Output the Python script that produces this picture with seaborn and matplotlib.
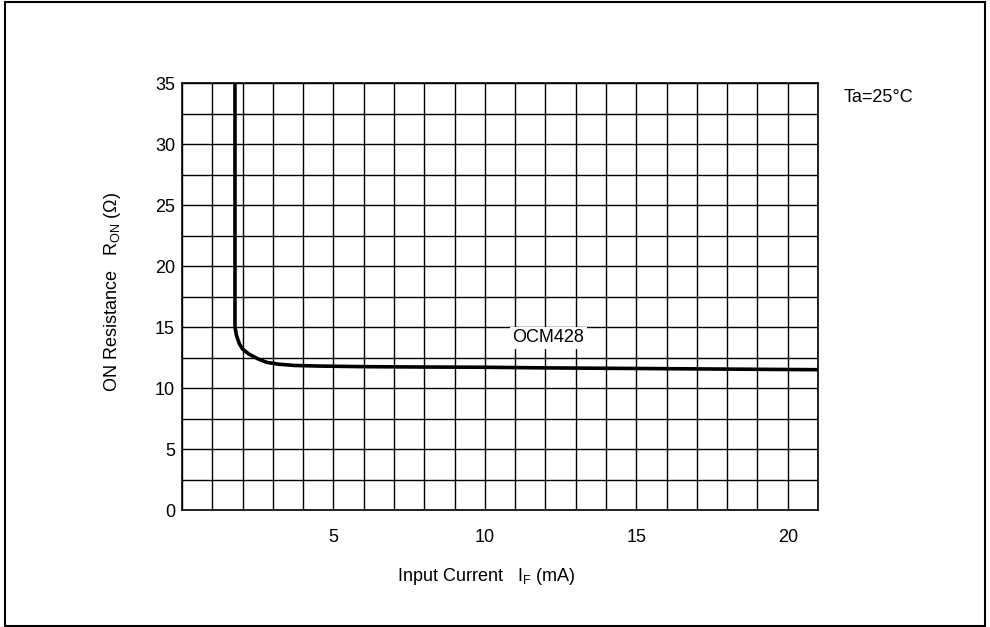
import matplotlib
matplotlib.use("Agg")
import matplotlib.pyplot as plt
from matplotlib.ticker import MultipleLocator
from matplotlib.patches import Rectangle
import seaborn as sns
import pandas as pd

# ON resistance vs input current (Ta = 25 °C)
input_current_ma = [1.75, 1.75, 1.8, 1.9, 2.0, 2.2, 2.5, 2.8, 3.2, 3.7, 4.5, 6.0, 8.0, 10.0, 12.0, 15.0, 18.0, 21.0]
on_resistance_ohm = [35.0, 15.0, 14.3, 13.6, 13.2, 12.8, 12.4, 12.1, 11.95, 11.85, 11.8, 11.75, 11.72, 11.7, 11.65, 11.6, 11.55, 11.5]
x_ticks = [5, 10, 15, 20]
y_ticks = [0, 5, 10, 15, 20, 25, 30, 35]
device_label = "OCM428"
condition_label = "Ta=25°C"

sns.set_style("white")
plt.rcParams["font.family"] = ["Liberation Sans", "DejaVu Sans"]
plt.rcParams["text.color"] = "black"
plt.rcParams["axes.labelcolor"] = "black"
plt.rcParams["mathtext.fontset"] = "custom"
plt.rcParams["mathtext.rm"] = "Liberation Sans"
plt.rcParams["mathtext.it"] = "Liberation Sans"

fig = plt.figure(figsize=(9.9, 6.27), dpi=100)
ax = fig.add_axes([0.1838, 0.1866, 0.6425, 0.681])

df = pd.DataFrame({"I_F": input_current_ma, "R_ON": on_resistance_ohm})
sns.lineplot(data=df, x="I_F", y="R_ON", ax=ax, sort=False, color="black",
             linewidth=2.6, estimator=None)

ax.set_xlim(0, 21)
ax.set_ylim(0, 35)
ax.set_xticks(x_ticks)
ax.set_yticks(y_ticks)
ax.xaxis.set_minor_locator(MultipleLocator(1))
ax.yaxis.set_minor_locator(MultipleLocator(2.5))
ax.grid(which="both", color="black", linewidth=1.0)
ax.set_axisbelow(True)
ax.tick_params(which="both", length=0, labelsize=13, colors="black")
ax.tick_params(axis="x", pad=14)
ax.tick_params(axis="y", pad=5)
for s in ax.spines.values():
    s.set_color("black")
    s.set_linewidth(1.2)

ax.set_xlabel("Input Current   I$_\\mathrm{F}$ (mA)", fontsize=13)
ax.set_ylabel("ON Resistance   R$_\\mathrm{ON}$ ($\\Omega$)", fontsize=13)
ax.xaxis.set_label_coords(0.478, -0.132)
ax.yaxis.set_label_coords(-0.092, 0.51)

ax.text(12.1, 14.1, device_label, fontsize=13, ha="center", va="center",
        bbox=dict(facecolor="white", edgecolor="none", pad=1.5))
fig.text(0.852, 0.845, condition_label, fontsize=13, ha="left", va="center")

fig.add_artist(Rectangle((0.005, 0.002), 0.99, 0.995, transform=fig.transFigure,
                         fill=False, edgecolor="black", linewidth=1.5))

fig.savefig("out.png", dpi=100, facecolor="white")
